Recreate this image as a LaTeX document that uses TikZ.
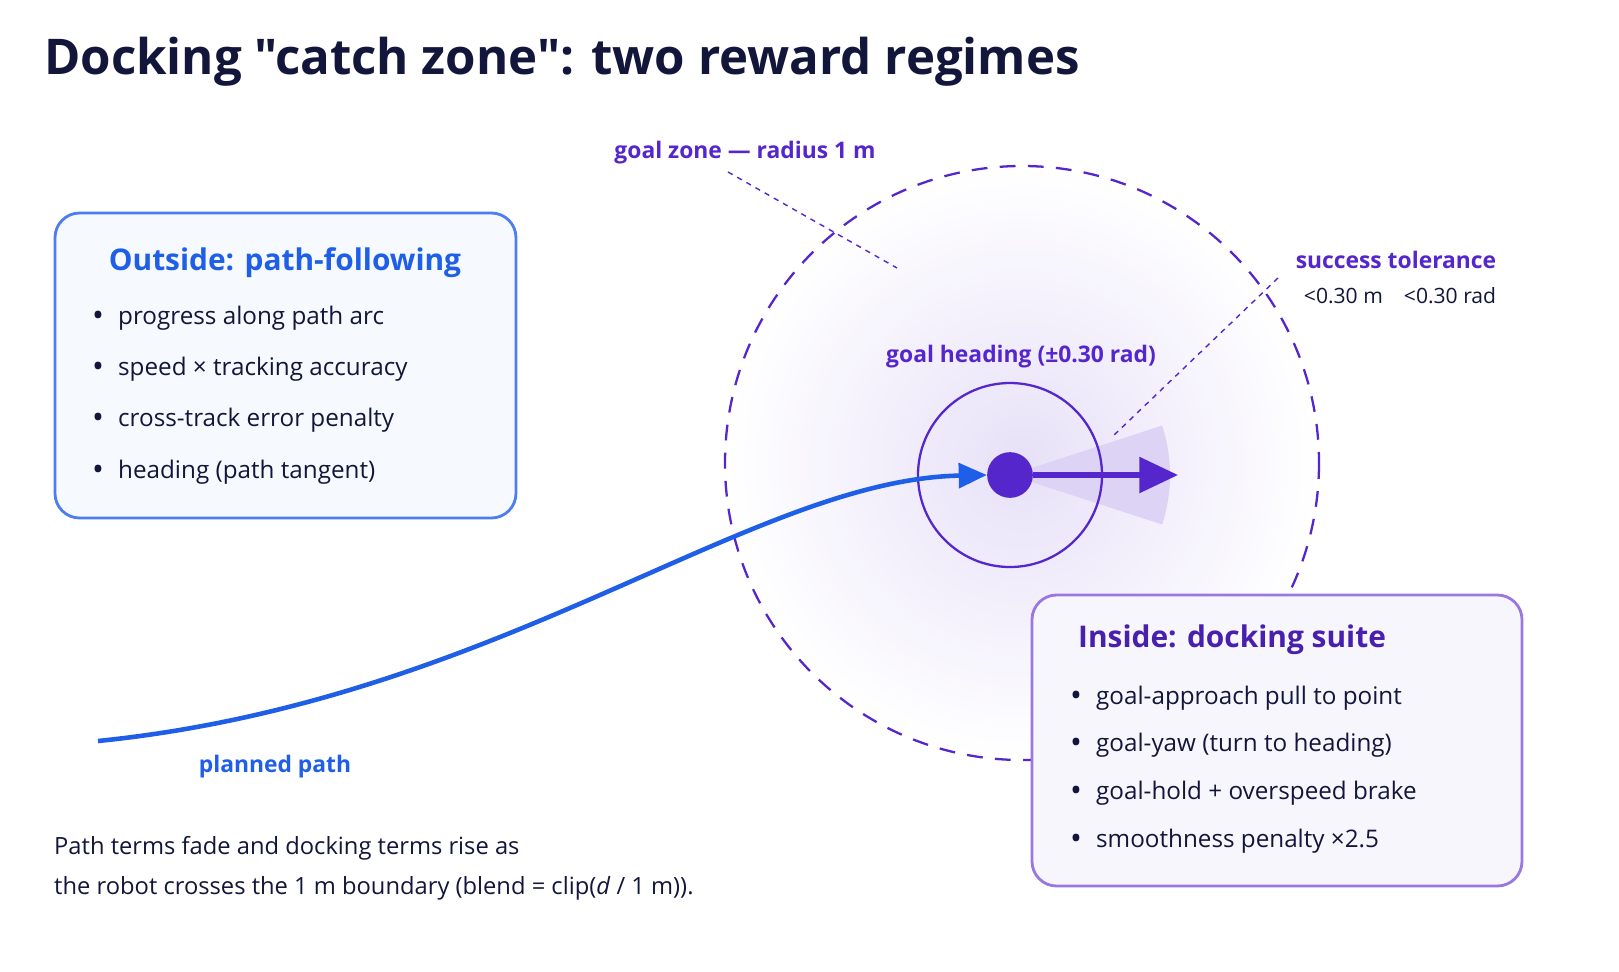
\documentclass[tikz,border=0pt]{standalone}
\usepackage{fontspec}
\setmainfont{Open Sans}[Ligatures=TeXOff]
\usepackage{tikz}
\usetikzlibrary{arrows.meta}
\definecolor{navy}{HTML}{12163A}
\definecolor{pathblue}{HTML}{1F5FE8}
\definecolor{dockpurple}{HTML}{5526CC}
\definecolor{boxpurple}{HTML}{9A78E0}
\tikzset{
  panel/.style={draw, line width=1.6pt, rounded corners=14pt},
  bullet/.style={anchor=west, font=\fontsize{13.8}{16}\selectfont, text=navy},
  tag/.style={font=\fontsize{13}{16}\selectfont\bfseries},
  leader/.style={dockpurple, dashed, line width=0.8pt}
}
\newcommand{\blt}{{\fontsize{18}{16}\selectfont\raisebox{-1pt}{•}}\hspace{8pt}}
\begin{document}
\begin{tikzpicture}[x=0.02cm,y=-0.02cm]
\useasboundingbox (0,0) rectangle (1619,971);
\fill[white] (0,0) rectangle (1619,971);

\node[anchor=west, font=\fontsize{28}{32}\selectfont\bfseries, text=navy] (title) at (38,62) {Docking "catch zone": two reward regimes};

% goal zone
\shade[inner color=dockpurple!14, outer color=white] (1022,463) circle (297);
\draw[dockpurple, dashed, dash pattern=on 9pt off 7pt, line width=1.3pt] (1022,463) circle (297);
\fill[dockpurple!20] (1010,475) -- ++(-18:160) arc (-18:18:160) -- cycle;
\draw[dockpurple, line width=1.3pt] (1010,475) circle (92);

% outside box
\draw[panel, pathblue!80, fill=pathblue!4] (55,213) rectangle (516,518);
\node[font=\fontsize{17}{20}\selectfont\bfseries, text=pathblue] (outtitle) at (285,263) {Outside: path-following};
\foreach \y/\t in {318/progress along path arc, 369/speed × tracking accuracy, 420/cross-track error penalty, 472/heading (path tangent)}
  \node[bullet] at (86,\y) {\blt\t};

% inside box
\draw[panel, boxpurple, fill=dockpurple!4] (1032,595) rectangle (1522,886);
\node[anchor=west, font=\fontsize{17}{20}\selectfont\bfseries, text=dockpurple!85!black] (intitle) at (1072,640) {Inside: docking suite};
\foreach \y/\t in {698/goal-approach pull to point, 745/goal-yaw (turn to heading), 793/goal-hold + overspeed brake, 841/smoothness penalty ×2.5}
  \node[bullet] at (1064,\y) {\blt\t};

% path and goal
\coordinate (start) at (98,741);
\node[circle, fill=dockpurple, inner sep=0pt, minimum size=26] (goal) at (1010,475) {};
\coordinate (head) at (1178,475);
\draw[pathblue, line width=2.6pt, -{Triangle[length=16pt,width=14pt]}] (start) .. controls (500,700) and (750,480) .. (goal.west);
\draw[dockpurple, line width=3pt, -{Triangle[length=22pt,width=20pt]}] (goal) -- (head);

% labels
\node[tag, text=dockpurple] (zone) at (745,153) {goal zone — radius 1 m};
\coordinate (zoneend) at (897,268);
\draw[leader] (728,172) -- (zoneend);
\node[tag, text=dockpurple] (tol) at (1396,260) {success tolerance};
\node[font=\fontsize{12}{14}\selectfont, text=navy] (tolval) at (1400,296) {<0.30 m\hspace{12pt}<0.30 rad};
\coordinate (tolend) at (1112,437);
\draw[leader] (1278,278) -- (tolend);
\node[tag, text=dockpurple] (heading) at (1021,357) {goal heading (±0.30 rad)};
\node[tag, text=pathblue] (planned) at (275,767) {planned path};
\node[anchor=north west, align=left, font=\fontsize{13.5}{23}\selectfont, text=navy] (note) at (48,830) {Path terms fade and docking terms rise as\\the robot crosses the 1 m boundary (blend = clip(\textit{d} / 1 m)).};
\end{tikzpicture}
\end{document}
